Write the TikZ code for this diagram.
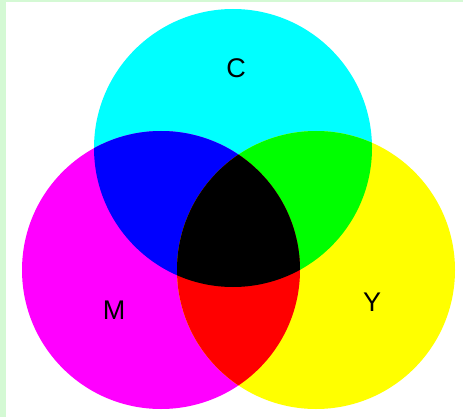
\documentclass[tikz,border=0pt]{standalone}
\usepackage{fontspec}
\setmainfont{Liberation Sans}
\usetikzlibrary{positioning}
\definecolor{mframe}{HTML}{D4F9D4}
\definecolor{mcyan}{HTML}{00FFFF}
\definecolor{mmagenta}{HTML}{FF00FF}
\definecolor{myellow}{HTML}{FFFF00}
\definecolor{mblue}{HTML}{0000FF}
\definecolor{mgreen}{HTML}{00FF00}
\definecolor{mred}{HTML}{FF0000}
\tikzset{
  ink/.style={font=\fontsize{27}{27}\selectfont, text=black, inner sep=0}, % letters
  disc/.style={radius=139}
}
\begin{document}
\begin{tikzpicture}[x=1pt,y=-1pt]
  \useasboundingbox (0,0) rectangle (463,417);

  % Frame
  \fill[mframe] (0,0) rectangle (6,417);
  \fill[mframe] (0,0) rectangle (463,2);

  % Centres
  \coordinate (cc) at (233,148);
  \coordinate (cm) at (161,270);
  \coordinate (cy) at (316,270);

  % Circles
  \fill[mcyan] (cc) circle[disc];
  \fill[mmagenta] (cm) circle[disc];
  \fill[myellow] (cy) circle[disc];

  % Overlaps
  \begin{scope}
    \clip (cc) circle[disc];
    \fill[mblue] (cm) circle[disc];
    \fill[mgreen] (cy) circle[disc];
  \end{scope}
  \begin{scope}
    \clip (cm) circle[disc];
    \fill[mred] (cy) circle[disc];
    \clip (cy) circle[disc];
    \fill[black] (cc) circle[disc];
  \end{scope}

  % Labels
  \node[ink] (lc) at (236,68) {C};
  \node[ink] (lm) at (114,310) {M};
  \node[ink] (ly) at (372,302) {Y};

\end{tikzpicture}
\end{document}
